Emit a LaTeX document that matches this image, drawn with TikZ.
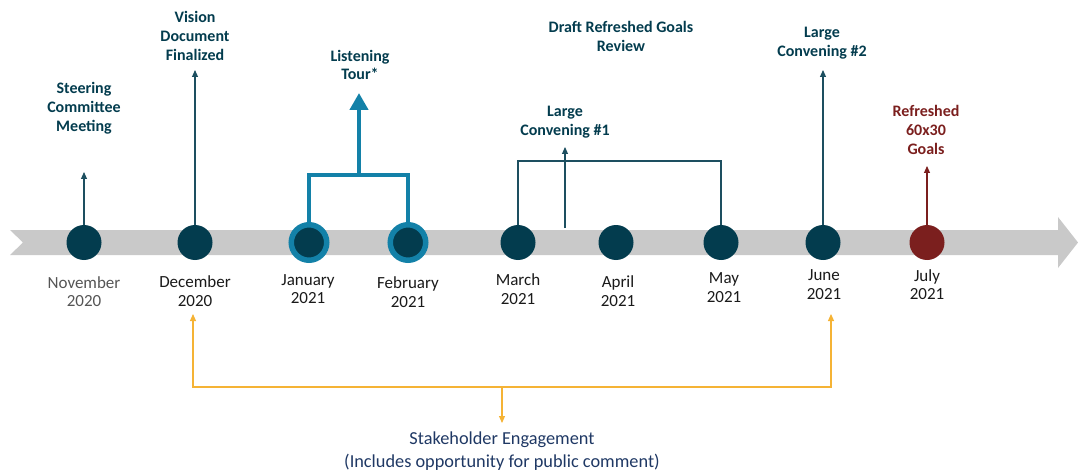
\documentclass[tikz,border=0pt]{standalone}
\usepackage{fontspec}
\setmainfont{Carlito}
\usetikzlibrary{arrows.meta}
\definecolor{dk}{HTML}{033C4E}
\definecolor{ln}{HTML}{1D4F60}
\definecolor{ring}{HTML}{1381A8}
\definecolor{rd}{HTML}{7B1F1E}
\definecolor{yel}{HTML}{F5B335}
\definecolor{band}{HTML}{C9C9C9}
\definecolor{navy}{HTML}{1F3864}
\definecolor{mon}{HTML}{1A1A1A}
\definecolor{monlt}{HTML}{555555}
\tikzset{
  dot/.style={circle,fill=dk,minimum size=35pt,inner sep=0pt},
  ringdot/.style={circle,fill=dk,draw=ring,line width=5.5pt,minimum size=35.5pt,inner sep=0pt},
  reddot/.style={circle,fill=rd,minimum size=35pt,inner sep=0pt},
  evt/.style={align=center,font=\bfseries\fontsize{16}{18.8}\selectfont,text=dk,inner sep=0pt},
  redevt/.style={evt,text=rd},
  month/.style={align=center,font=\fontsize{17}{18.5}\selectfont,text=mon,inner sep=0pt},
  conn/.style={draw=ln,line width=1.1pt,-{Triangle[width=6pt,length=7pt]}},
  yconn/.style={draw=yel,line width=1.1pt,-{Triangle[width=6pt,length=7pt]}},
}
\begin{document}
\begin{tikzpicture}[x=1pt,y=-1pt]
\useasboundingbox (0,0) rectangle (1078,473);
% timeline band
\fill[band] (10,230) -- (1058,230) -- (1058,217) -- (1078,242.5) -- (1058,268) -- (1058,255) -- (10,255) -- (23,242.5) -- cycle;
% circles
\node[dot] (nov) at (84,242.5) {};
\node[dot] (dec) at (195,242.5) {};
\node[ringdot] (jan) at (309,242.5) {};
\node[ringdot] (feb) at (408,242.5) {};
\node[dot] (mar) at (518,242.5) {};
\node[dot] (apr) at (616,242.5) {};
\node[dot] (may) at (721,242.5) {};
\node[dot] (jun) at (823,242.5) {};
\node[reddot] (jul) at (927,242.5) {};
% month labels
\node[month,text=monlt] (lnov) at (84,291.5) {November\\2020};
\node[month] (ldec) at (195,291) {December\\2020};
\node[month] (ljan) at (308,289) {January\\2021};
\node[month] (lfeb) at (408,292) {February\\2021};
\node[month] (lmar) at (518,289) {March\\2021};
\node[month] (lapr) at (618,291) {April\\2021};
\node[month] (lmay) at (724,287.5) {May\\2021};
\node[month] (ljun) at (824,284.5) {June\\2021};
\node[month] (ljul) at (927,284.5) {July\\2021};
% event labels
\node[evt] (steer) at (84,108) {Steering\\Committee\\Meeting};
\node[evt] (vision) at (195,36) {Vision\\Document\\Finalized};
\node[evt] (listen) at (360,65) {Listening\\Tour*};
\node[evt] (lc1) at (565,122) {Large\\Convening \#1};
\node[evt] (draft) at (621,36.5) {Draft Refreshed Goals\\Review};
\node[evt] (lc2) at (822,43.5) {Large\\Convening \#2};
\node[redevt] (goals) at (926,130) {Refreshed\\60x30\\Goals};
% coordinates for free ends
\coordinate (steerTip) at (84,172);
\coordinate (visionTip) at (195,70);
\coordinate (ltL) at (309,175);
\coordinate (ltR) at (408,175);
\coordinate (ltM) at (359,175);
\coordinate (ltTip) at (359,93);
\coordinate (lcL) at (518,161);
\coordinate (lcR) at (721,161);
\coordinate (lcBase) at (565,228);
\coordinate (lcTip) at (565,147);
\coordinate (lc2Tip) at (823,70);
\coordinate (goalsTip) at (927,166);
% connectors
\draw[conn] (nov.north) -- (steerTip);
\draw[conn] (dec.north) -- (visionTip);
\draw[ring,line width=4.2pt,line join=miter] (jan.north) -- (ltL) -- (ltR) -- (feb.north);
\draw[ring,line width=4.2pt,-{Triangle[width=18pt,length=17pt]}] (ltM) -- (ltTip);
\draw[ln,line width=1.1pt] (mar.north) -- (lcL) -- (lcR) -- (may.north);
\draw[conn] (lcBase) -- (lcTip);
\draw[conn] (jun.north) -- (lc2Tip);
\draw[conn,draw=rd,fill=rd] (jul.north) -- (goalsTip);
% stakeholder bracket
\coordinate (skL) at (193,387);
\coordinate (skR) at (831,387);
\coordinate (skM) at (502,387);
\coordinate (skLTip) at (193,314);
\coordinate (skRTip) at (831,314);
\coordinate (skMTip) at (502,423);
\node[align=center,font=\fontsize{18.3}{23}\selectfont,text=navy,inner sep=0pt] (stake) at (502,451.5) {Stakeholder Engagement\\(Includes opportunity for public comment)};
\draw[yconn] (skM) -- (skL) -- (skLTip);
\draw[yconn] (skM) -- (skR) -- (skRTip);
\draw[yconn] (skM) -- (skMTip);
\end{tikzpicture}
\end{document}
